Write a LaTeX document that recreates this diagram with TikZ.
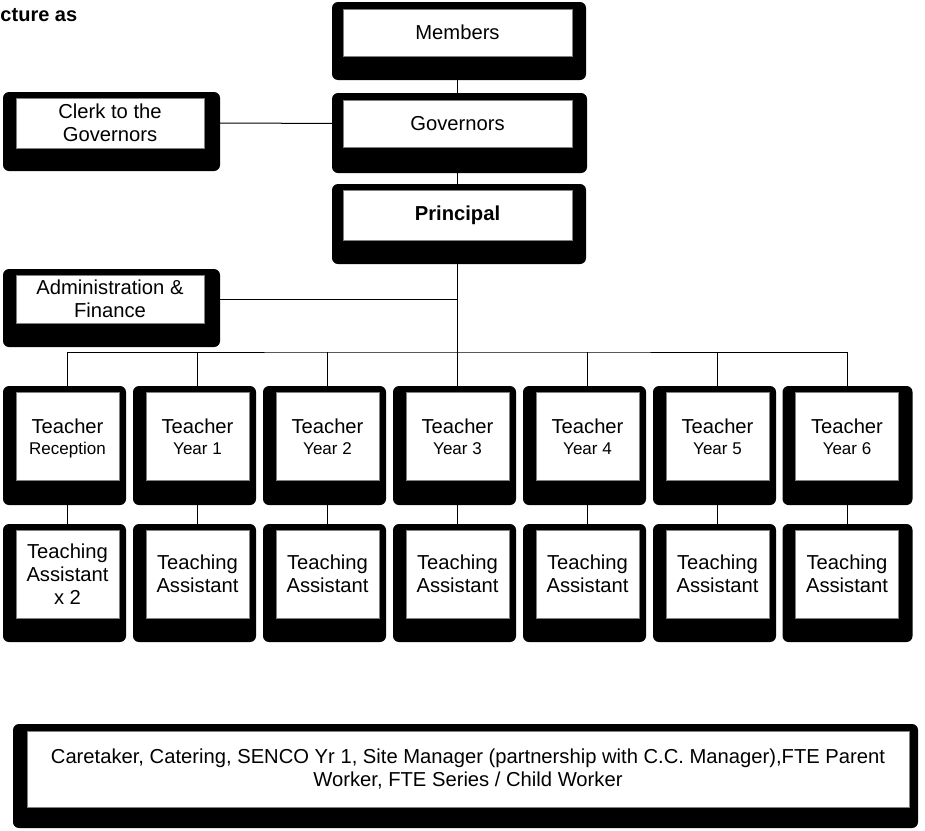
\documentclass[tikz,border=0pt]{standalone}
\usepackage{fontspec}
\setmainfont{Liberation Sans}
\usetikzlibrary{backgrounds}

\tikzset{
  % white label panel with a thin grey rim
  panel/.style={draw=black!50, line width=0.6pt, fill=white, inner sep=0pt,
    align=center, text=black, font=\fontsize{20.2}{23}\selectfont},
  % black rounded backing plate behind each panel
  plate/.style={fill=black, rounded corners=6pt},
  link/.style={draw=black, line width=1pt},
}
\newcommand\subline[1]{{\fontsize{17}{20}\selectfont #1\strut}}

\begin{document}
\begin{tikzpicture}[x=1pt, y=-1pt]
  \useasboundingbox (0,0) rectangle (925,830);

  % clipped heading fragment at the top left
  \node[anchor=base west, inner sep=0pt, font=\bfseries\fontsize{20}{22}\selectfont]
    (head) at (0.3,21) {cture as};

  % --- governance column ---
  \fill[plate] (332,2) rectangle (586,80);
  \node[panel, minimum width=229pt, minimum height=47pt] (mem) at (457.5,32.5) {Members};

  \fill[plate] (332,93) rectangle (587,173);
  \node[panel, minimum width=229pt, minimum height=47pt] (gov) at (457.5,123.5) {Governors};

  \fill[plate] (332,184) rectangle (586,264);
  \node[panel, minimum width=229pt, minimum height=50pt] (prin) at (457.5,215) {\textbf{Principal}};

  \fill[plate] (3,92) rectangle (220,171);
  \node[panel, minimum width=188pt, minimum height=50pt] (clerk) at (110,123) {Clerk to the\\Governors};

  \fill[plate] (3,269) rectangle (220,347);
  \node[panel, minimum width=188pt, minimum height=48pt] (admin) at (110,299) {Administration \&\\Finance};

  % --- teachers and their assistants ---
  \foreach \i/\cx/\rx/\lab in {1/67.5/7/Reception, 2/197.5/7/Year 1, 3/327.5/7/Year 2,
                               4/457.5/7/Year 3, 5/587.5/7/Year 4, 6/717.5/7/Year 5,
                               7/847/14/Year 6} {
    \fill[plate] (\cx-64.5,386) rectangle (\cx+51.5+\rx,505);
    \node[panel, minimum width=103pt, minimum height=88pt] (t\i) at (\cx,436)
      {\rule{0pt}{22pt}Teacher\\[-2pt]\subline{\lab}};
    \fill[plate] (\cx-64.5,524) rectangle (\cx+51.5+\rx,642);
  }
  \node[panel, minimum width=103pt, minimum height=88pt] (a1) at (67.5,574)
    {Teaching\\Assistant\\x 2};
  \foreach \i/\cx in {2/197.5, 3/327.5, 4/457.5, 5/587.5, 6/717.5, 7/847} {
    \node[panel, minimum width=103pt, minimum height=88pt] (a\i) at (\cx,574)
      {Teaching\\Assistant};
  }

  % --- support staff ---
  \fill[plate] (13,724) rectangle (918,828);
  \node[panel, minimum width=882pt, minimum height=76pt] (staff) at (468,769)
    {Caretaker, Catering, SENCO Yr 1, Site Manager (partnership with C.C. Manager),FTE Parent\\
     Worker, FTE Series / Child Worker};

  % --- connectors, kept behind the boxes ---
  \coordinate (bus) at (457.5,352);
  \begin{scope}[on background layer]
    \draw[link] (mem) -- (gov);
    \draw[link] (clerk) -- (gov);
    \draw[link] (gov) -- (prin);
    \draw[link] (prin) -- (t4);
    \draw[link] (admin) -- (admin -| prin);
    \draw[link] (t1) |- (bus) -| (t7);
    \foreach \i in {1,...,7} {
      \draw[link] (t\i) -- (t\i |- bus);
      \draw[link] (t\i) -- (a\i);
    }
  \end{scope}
\end{tikzpicture}
\end{document}
